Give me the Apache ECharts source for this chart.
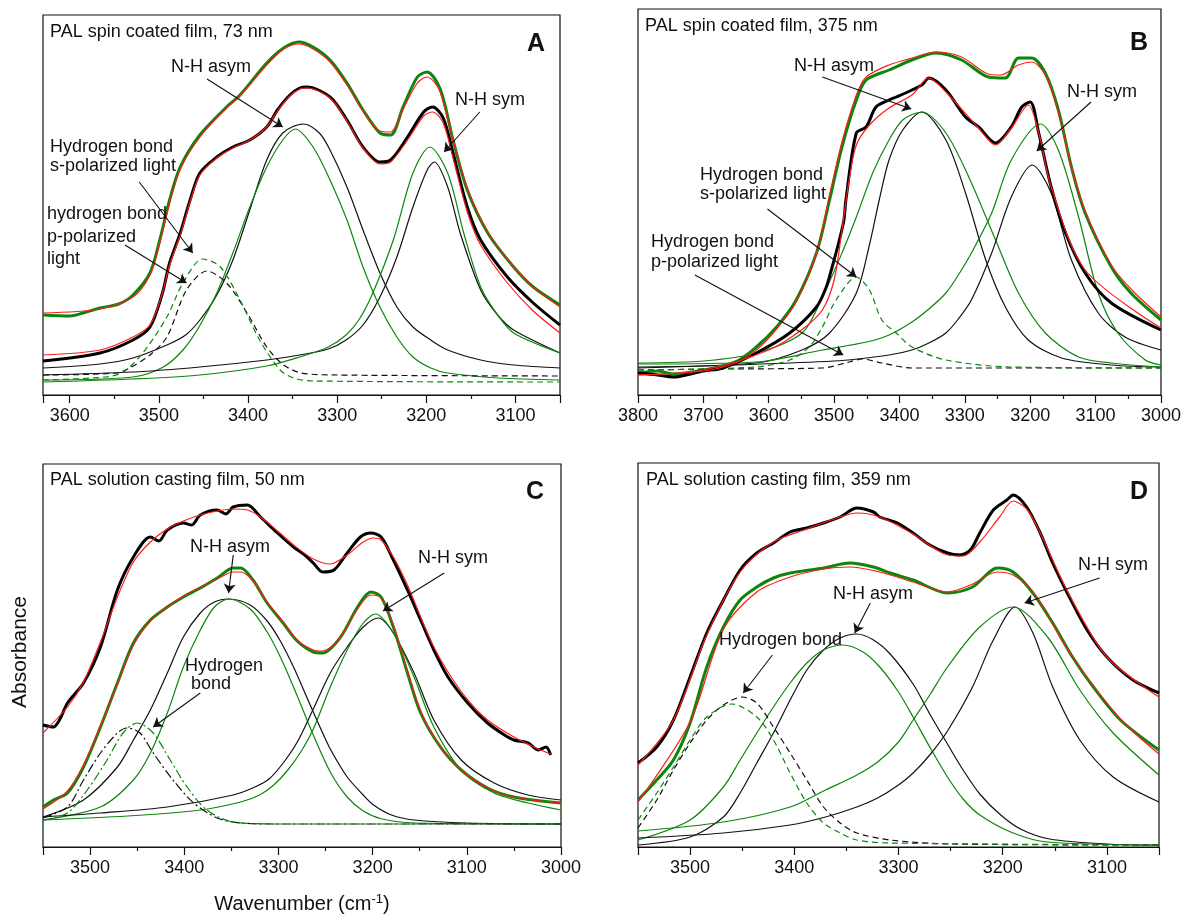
<!DOCTYPE html>
<html lang="en">
<head>
    <meta charset="UTF-8">
    <title>PAL N-H band fits</title>
    <script src="https://cdn.jsdelivr.net/npm/echarts@6/dist/echarts.min.js"></script>
    <style>
        body { margin: 0; background: #fff; }
        #chart { width: 1184px; height: 916px; }
    </style>
</head>
<body>
    <div id="chart"></div>
    <script>
        // ---- panel A: spin coated, 73 nm  [wavenumber, absorbance (a.u.)] ----
        const aMeasGreen = [[3630,80],[3600,79],[3585,82],[3566,87],[3545,91],[3529,100],[3510,122],[3499,155],[3488,195],[3476,228],[3454,260],[3424,288],[3409,300],[3379,332],[3360,347],[3343,353],[3327,348],[3308,335],[3289,312],[3271,285],[3252,262],[3240,260],[3226,288],[3210,318],[3199,323],[3184,305],[3170,255],[3154,205],[3131,162],[3102,128],[3080,108],[3050,90]];
        const aFitGreen = [[3630,82],[3566,86],[3529,98],[3510,120],[3499,152],[3488,192],[3476,226],[3454,258],[3424,287],[3409,299],[3379,330],[3360,346],[3343,351],[3327,346],[3308,333],[3289,310],[3271,284],[3252,264],[3240,263],[3226,286],[3210,312],[3199,318],[3190,312],[3184,302],[3170,255],[3154,207],[3131,163],[3102,128],[3080,108],[3050,88]];
        const aMeasBlack = [[3630,34],[3566,42],[3529,55],[3510,68],[3496,102],[3488,132],[3476,162],[3465,195],[3454,222],[3435,238],[3417,248],[3398,255],[3379,268],[3367,285],[3353,300],[3342,307],[3334,308],[3308,298],[3289,275],[3271,248],[3252,233],[3240,235],[3221,258],[3203,283],[3193,288],[3181,277],[3170,242],[3154,188],[3139,155],[3109,118],[3080,92],[3050,70]];
        const aFitBlack = [[3630,40],[3566,45],[3529,58],[3510,70],[3496,102],[3488,130],[3476,160],[3465,193],[3454,220],[3435,237],[3417,247],[3398,255],[3379,268],[3367,284],[3353,299],[3342,306],[3334,307],[3308,297],[3289,274],[3271,247],[3252,231],[3240,233],[3221,255],[3203,279],[3193,283],[3181,272],[3170,237],[3154,183],[3139,150],[3109,112],[3080,84],[3050,62]];
        const aAsymBlack = [[3630,27],[3566,31],[3529,37],[3491,50],[3470,60],[3454,75],[3435,100],[3417,135],[3398,185],[3379,235],[3361,262],[3338,271],[3320,262],[3308,245],[3289,208],[3271,165],[3252,122],[3233,88],[3215,68],[3195,55],[3176,45],[3139,35],[3102,30],[3050,27]];
        const aAsymGreen = [[3630,15],[3529,18],[3495,28],[3473,45],[3455,68],[3435,102],[3417,142],[3398,188],[3379,228],[3361,255],[3347,266],[3327,248],[3308,215],[3289,175],[3271,128],[3252,88],[3233,58],[3215,38],[3195,27],[3176,22],[3120,17],[3050,15]];
        const aSymBlack = [[3630,20],[3529,23],[3454,28],[3379,35],[3342,40],[3310,46],[3290,55],[3271,70],[3252,98],[3233,138],[3215,188],[3199,225],[3191,233],[3176,208],[3162,162],[3139,105],[3120,80],[3102,65],[3050,42]];
        const aSymGreen = [[3630,13],[3529,16],[3454,20],[3379,29],[3342,38],[3310,48],[3290,60],[3275,76],[3260,102],[3237,155],[3215,222],[3196,248],[3176,222],[3158,162],[3139,108],[3120,80],[3102,62],[3050,42]];
        const aHbondBlack = [[3630,20],[3547,22],[3533,27],[3510,40],[3491,58],[3469,105],[3446,124],[3424,112],[3401,82],[3379,48],[3360,30],[3340,22],[3300,20],[3050,19]];
        const aHbondGreen = [[3630,15],[3560,18],[3540,23],[3518,42],[3491,78],[3473,112],[3451,136],[3431,128],[3409,95],[3387,55],[3364,25],[3349,17],[3327,14],[3050,13]];

        // ---- panel B: spin coated, 375 nm ----
        const bMeasGreen = [[3800,22],[3770,24],[3747,21],[3700,25],[3651,33],[3619,48],[3588,68],[3558,95],[3527,142],[3507,195],[3488,248],[3466,295],[3451,315],[3416,325],[3381,335],[3344,342],[3305,335],[3264,318],[3238,317],[3218,337],[3198,337],[3177,322],[3157,285],[3137,228],[3116,182],[3076,128],[3046,102],[3000,75]];
        const bFitGreen = [[3800,20],[3700,24],[3651,32],[3619,45],[3588,66],[3558,93],[3527,142],[3507,200],[3488,253],[3466,300],[3451,318],[3416,330],[3381,337],[3344,343],[3305,338],[3264,321],[3245,320],[3218,330],[3198,333],[3177,320],[3157,283],[3137,228],[3116,184],[3076,130],[3046,106],[3000,78]];
        const bMeasBlack = [[3800,22],[3770,20],[3747,18],[3700,24],[3670,27],[3619,42],[3568,62],[3527,88],[3512,108],[3503,128],[3492,155],[3485,175],[3482,195],[3466,262],[3451,268],[3436,288],[3416,295],[3405,298],[3381,305],[3366,310],[3355,317],[3329,305],[3299,278],[3279,268],[3253,252],[3229,268],[3213,288],[3200,293],[3187,262],[3168,208],[3146,162],[3116,122],[3076,92],[3000,65]];
        const bFitBlack = [[3800,20],[3700,25],[3600,45],[3550,65],[3518,85],[3500,115],[3488,165],[3477,215],[3466,250],[3446,270],[3416,287],[3381,300],[3355,317],[3329,303],[3279,267],[3253,250],[3229,267],[3203,290],[3187,262],[3168,208],[3116,125],[3000,67]];
        const bAsymGreen = [[3800,32],[3700,34],[3619,42],[3549,62],[3518,98],[3488,142],[3466,178],[3441,222],[3416,255],[3395,275],[3366,283],[3329,262],[3294,218],[3253,155],[3218,102],[3177,62],[3126,38],[3076,32],[3000,28]];
        const bAsymBlack = [[3800,28],[3619,32],[3549,45],[3507,62],[3466,102],[3446,150],[3431,195],[3416,235],[3395,265],[3366,283],[3329,255],[3299,202],[3268,135],[3238,88],[3203,55],[3152,37],[3076,30],[3000,28]];
        const bSymGreen = [[3800,31],[3619,33],[3518,45],[3450,53],[3416,60],[3381,73],[3355,86],[3329,102],[3310,120],[3290,142],[3259,182],[3229,235],[3184,271],[3157,245],[3126,178],[3096,102],[3066,62],[3024,35],[3000,30]];
        const bSymBlack = [[3800,27],[3500,34],[3416,40],[3381,45],[3355,52],[3329,62],[3310,76],[3290,95],[3259,142],[3229,198],[3197,230],[3168,202],[3137,135],[3096,82],[3055,58],[3000,45]];
        const bHbondGreen = [[3800,25],[3619,28],[3568,35],[3538,48],[3518,68],[3497,95],[3466,118],[3446,105],[3427,75],[3405,62],[3381,48],[3329,35],[3229,28],[3000,27]];
        const bHbondBlack = [[3800,25],[3670,26],[3518,27],[3477,33],[3457,36],[3427,32],[3381,27],[3000,27]];

        // ---- panel C: solution casting, 50 nm ----
        const cMeasBlack = [[3550,122],[3539,120],[3532,128],[3524,144],[3507,164],[3489,200],[3471,257],[3454,290],[3436,310],[3427,306],[3418,317],[3401,324],[3392,322],[3383,332],[3365,337],[3356,333],[3348,340],[3333,342],[3319,330],[3301,314],[3284,300],[3272,292],[3263,284],[3253,275],[3241,277],[3227,294],[3213,310],[3202,314],[3191,310],[3178,287],[3163,257],[3149,227],[3135,197],[3120,170],[3099,144],[3078,124],[3060,112],[3050,107],[3035,104],[3024,97],[3016,100],[3011,92]];
        const cFitBlack = [[3550,114],[3524,140],[3507,165],[3489,205],[3471,250],[3454,285],[3436,305],[3418,318],[3401,326],[3383,332],[3365,336],[3348,338],[3333,337],[3319,330],[3301,316],[3284,302],[3263,288],[3245,283],[3227,292],[3210,305],[3199,309],[3191,307],[3178,290],[3163,262],[3149,230],[3135,200],[3120,175],[3099,147],[3078,127],[3050,110],[3024,98],[3011,93]];
        const cMeasGreen = [[3550,40],[3539,47],[3524,54],[3507,80],[3489,120],[3471,164],[3454,204],[3436,227],[3418,240],[3401,250],[3383,259],[3365,269],[3348,279],[3340,279],[3327,267],[3312,244],[3295,224],[3280,206],[3263,195],[3253,194],[3234,210],[3216,240],[3202,255],[3191,250],[3178,220],[3163,174],[3149,134],[3128,100],[3106,77],[3078,59],[3050,50],[3000,44]];
        const cFitGreen = [[3550,38],[3524,56],[3507,82],[3489,121],[3471,163],[3454,202],[3436,226],[3418,240],[3401,251],[3383,260],[3365,268],[3348,275],[3340,275],[3327,266],[3312,245],[3295,225],[3280,207],[3263,197],[3253,196],[3234,210],[3216,238],[3202,252],[3191,249],[3178,222],[3163,176],[3149,136],[3128,100],[3106,77],[3078,59],[3050,50],[3000,44]];
        const cAsymBlack = [[3550,30],[3507,47],[3471,80],[3454,107],[3436,137],[3418,174],[3401,210],[3383,234],[3368,245],[3353,248],[3330,242],[3312,226],[3298,206],[3284,180],[3270,150],[3255,118],[3245,98],[3227,70],[3210,52],[3199,42],[3180,32],[3156,27],[3100,24],[3000,23]];
        const cAsymGreen = [[3550,27],[3489,40],[3454,67],[3436,94],[3418,134],[3401,180],[3383,217],[3368,240],[3353,248],[3330,238],[3312,215],[3298,190],[3284,160],[3263,112],[3245,75],[3227,50],[3210,36],[3190,28],[3156,24],[3000,23]];
        const cSymBlack = [[3550,30],[3489,34],[3418,40],[3348,52],[3325,60],[3310,68],[3295,84],[3280,105],[3263,138],[3245,174],[3227,200],[3210,220],[3194,229],[3178,214],[3156,174],[3135,127],[3106,87],[3071,64],[3035,52],[3000,47]];
        const cSymGreen = [[3550,27],[3460,31],[3383,37],[3340,45],[3320,52],[3305,62],[3290,77],[3275,97],[3263,118],[3245,160],[3227,197],[3210,224],[3197,233],[3178,214],[3156,170],[3135,120],[3106,77],[3071,54],[3035,44],[3000,37]];
        const cHbondBlack = [[3550,29],[3524,40],[3507,67],[3489,94],[3471,114],[3461,119],[3447,114],[3433,94],[3412,67],[3390,44],[3365,29],[3340,24],[3298,23],[3000,23]];
        const cHbondGreen = [[3550,27],[3524,34],[3503,57],[3482,87],[3465,114],[3450,124],[3433,114],[3415,87],[3397,60],[3376,37],[3348,25],[3298,23],[3000,23]];

        // ---- panel D: solution casting, 359 nm ----
        const dMeasBlack = [[3550,84],[3532,100],[3516,127],[3500,170],[3484,214],[3468,247],[3452,277],[3436,294],[3420,304],[3404,315],[3388,319],[3372,324],[3356,330],[3340,339],[3324,335],[3318,330],[3301,324],[3286,314],[3270,302],[3253,294],[3241,292],[3231,297],[3222,314],[3209,337],[3196,347],[3190,352],[3177,340],[3164,314],[3152,284],[3138,254],[3119,217],[3100,190],[3075,167],[3050,154]];
        const dFitBlack = [[3550,82],[3516,127],[3484,212],[3452,275],[3420,305],[3388,318],[3356,330],[3340,334],[3318,330],[3286,313],[3253,292],[3238,291],[3222,305],[3203,330],[3190,346],[3177,338],[3164,314],[3138,256],[3100,190],[3050,150]];
        const dMeasGreen = [[3550,47],[3532,67],[3516,87],[3500,124],[3484,180],[3468,220],[3452,247],[3436,260],[3420,269],[3404,274],[3372,279],[3347,284],[3324,280],[3308,274],[3286,267],[3253,254],[3229,260],[3205,279],[3190,275],[3171,254],[3152,224],[3133,190],[3113,160],[3087,127],[3050,97]];
        const dFitGreen = [[3550,45],[3500,125],[3468,218],[3436,255],[3404,270],[3372,278],[3347,280],[3318,275],[3286,265],[3253,255],[3231,262],[3205,275],[3190,272],[3171,255],[3133,190],[3087,128],[3050,93]];
        const dAsymBlack = [[3550,2],[3500,10],[3468,30],[3452,54],[3436,84],[3420,114],[3404,147],[3388,177],[3372,197],[3356,209],[3340,213],[3324,207],[3308,193],[3286,163],[3270,133],[3253,103],[3238,77],[3222,53],[3203,33],[3183,18],[3155,8],[3100,3],[3050,2]];
        const dAsymGreen = [[3550,7],[3500,27],[3468,60],[3452,87],[3436,114],[3420,140],[3404,164],[3388,184],[3372,197],[3353,202],[3334,195],[3318,180],[3300,155],[3286,130],[3270,100],[3253,70],[3238,48],[3222,32],[3190,14],[3157,5],[3050,2]];
        const dSymBlack = [[3550,9],[3468,14],[3404,22],[3370,30],[3340,40],[3320,49],[3300,62],[3286,74],[3270,92],[3253,116],[3229,160],[3209,207],[3188,240],[3171,214],[3152,160],[3126,107],[3094,70],[3050,45]];
        const dSymGreen = [[3550,16],[3468,25],[3404,40],[3370,57],[3340,72],[3320,85],[3300,105],[3286,127],[3270,152],[3253,180],[3222,220],[3190,240],[3157,210],[3126,157],[3094,114],[3050,72]];
        const dHbondBlack = [[3550,19],[3532,47],[3516,77],[3500,104],[3484,127],[3468,142],[3450,150],[3436,144],[3420,120],[3404,94],[3388,67],[3372,40],[3356,24],[3340,14],[3308,7],[3250,3],[3050,2]];
        const dHbondGreen = [[3550,27],[3532,54],[3516,80],[3500,107],[3484,130],[3460,143],[3436,130],[3420,107],[3404,74],[3388,44],[3372,24],[3356,14],[3340,7],[3308,4],[3050,2]];

        // arrows, [from, to] in data units
        const aArrows = [[[3446,316],[3361,268]],[[3140,283],[3180,243]],[[3522,213],[3462,142]],[[3538,150],[3469,112]]];
        const bArrows = [[[3518,318],[3382,286]],[[3107,293],[3190,244]],[[3602,186],[3466,118]],[[3713,120],[3486,40]]];
        const cArrows = [[[3348,292],[3353,254]],[[3124,274],[3189,236]],[[3383,154],[3433,120]]];
        const dArrows = [[[3327,244],[3342,214]],[[3107,269],[3179,244]],[[3421,192],[3449,154]]];

        const FONT = '"Liberation Sans", Arial, sans-serif';
        const GREEN = '#0b860b';
        const RED = '#ff1a1a';

        const grids = [
            { left: 43, top: 15, width: 517, height: 380 },
            { left: 638, top: 9, width: 525, height: 386 },
            { left: 43, top: 464, width: 518, height: 383 },
            { left: 638, top: 463, width: 521, height: 384 }
        ];
        const xRanges = [[3050, 3630], [3000, 3800], [3000, 3550], [3050, 3550]];

        function xAxisFor(i) {
            const ax = {
                type: 'value', gridIndex: i, inverse: true,
                min: xRanges[i][0], max: xRanges[i][1],
                splitNumber: 6,
                axisLine: { onZero: false, lineStyle: { color: '#111', width: 1.2 } },
                axisTick: { show: true, inside: false, length: 8, lineStyle: { color: '#111', width: 1.2 } },
                minorTick: { show: true, splitNumber: 2, length: 4, lineStyle: { color: '#111', width: 1.2 } },
                splitLine: { show: false },
                axisLabel: { fontFamily: FONT, fontSize: 18, color: '#111', margin: 12,
                    formatter: v => (v % 100 === 0 ? String(v) : '') }
            };
            if (i === 1 || i === 2) ax.interval = 100;
            if (i === 0 || i === 3) { ax.axisLabel.showMinLabel = false; ax.axisLabel.showMaxLabel = false; }
            if (i === 2) {
                ax.axisLabel.showMaxLabel = false;
                ax.name = 'Wavenumber (cm{sup|-1})';
                ax.nameLocation = 'middle';
                ax.nameGap = 46;
                ax.nameTextStyle = { fontFamily: FONT, fontSize: 20, color: '#111',
                    rich: { sup: { fontFamily: FONT, fontSize: 13, color: '#111', padding: [0, 0, 10, 0] } } };
            }
            return ax;
        }

        function yAxisFor(i) {
            return { type: 'value', gridIndex: i, min: 0, max: grids[i].height, show: false };
        }

        function line(i, data, color, width, dash, z) {
            return {
                type: 'line', xAxisIndex: i, yAxisIndex: i, data: data,
                symbol: 'none', smooth: 0.3, silent: true, z: z || 2,
                lineStyle: { color: color, width: width, type: dash || 'solid' }
            };
        }

        function arrows(i, list) {
            return {
                type: 'line', xAxisIndex: i, yAxisIndex: i, data: [], symbol: 'none', silent: true, z: 6,
                markLine: {
                    silent: true, animation: false, symbol: ['none', 'arrow'], symbolSize: 9,
                    label: { show: false },
                    lineStyle: { color: '#111', width: 1.1, type: 'solid' },
                    data: list.map(p => [{ coord: p[0] }, { coord: p[1] }])
                }
            };
        }

        const DASH = [6, 4];
        const DASHDOT = [9, 3, 2, 3];

        const series = [
            // A
            line(0, aAsymBlack, '#111', 1.2), line(0, aAsymGreen, GREEN, 1.2),
            line(0, aSymBlack, '#111', 1.2), line(0, aSymGreen, GREEN, 1.2),
            line(0, aHbondBlack, '#111', 1.2, DASH), line(0, aHbondGreen, GREEN, 1.2, DASH),
            line(0, aMeasGreen, GREEN, 3, null, 3), line(0, aFitGreen, RED, 1.2, null, 4),
            line(0, aMeasBlack, '#000', 3, null, 3), line(0, aFitBlack, RED, 1.2, null, 4),
            arrows(0, aArrows),
            // B
            line(1, bAsymBlack, '#111', 1.2), line(1, bAsymGreen, GREEN, 1.2),
            line(1, bSymBlack, '#111', 1.2), line(1, bSymGreen, GREEN, 1.2),
            line(1, bHbondBlack, '#111', 1.2, DASH), line(1, bHbondGreen, GREEN, 1.2, DASH),
            line(1, bMeasGreen, GREEN, 3, null, 3), line(1, bFitGreen, RED, 1.2, null, 4),
            line(1, bMeasBlack, '#000', 3, null, 3), line(1, bFitBlack, RED, 1.2, null, 4),
            arrows(1, bArrows),
            // C
            line(2, cAsymBlack, '#111', 1.2), line(2, cAsymGreen, GREEN, 1.2),
            line(2, cSymBlack, '#111', 1.2), line(2, cSymGreen, GREEN, 1.2),
            line(2, cHbondBlack, '#111', 1.2, DASHDOT), line(2, cHbondGreen, GREEN, 1.2, DASHDOT),
            line(2, cMeasBlack, '#000', 3, null, 3), line(2, cFitBlack, RED, 1.2, null, 4),
            line(2, cMeasGreen, GREEN, 3, null, 3), line(2, cFitGreen, RED, 1.2, null, 4),
            arrows(2, cArrows),
            // D
            line(3, dAsymBlack, '#111', 1.2), line(3, dAsymGreen, GREEN, 1.2),
            line(3, dSymBlack, '#111', 1.2), line(3, dSymGreen, GREEN, 1.2),
            line(3, dHbondBlack, '#111', 1.2, DASH), line(3, dHbondGreen, GREEN, 1.2, DASH),
            line(3, dMeasBlack, '#000', 3, null, 3), line(3, dFitBlack, RED, 1.2, null, 4),
            line(3, dMeasGreen, GREEN, 3, null, 3), line(3, dFitGreen, RED, 1.2, null, 4),
            arrows(3, dArrows)
        ];

        // text labels
        function txt(x, y, s, size, bold, align) {
            return {
                type: 'text', x: x, y: y, z: 10, silent: true,
                style: { text: s, fill: '#111', font: (bold ? 'bold ' : '') + size + 'px ' + FONT,
                    textAlign: align || 'left', textVerticalAlign: 'middle' }
            };
        }
        const labels = [
            txt(50, 32, 'PAL spin coated film, 73 nm', 18), txt(536, 44, 'A', 25, true, 'center'),
            txt(171, 67, 'N-H asym', 18), txt(455, 100, 'N-H sym', 18),
            txt(50, 147, 'Hydrogen bond', 18), txt(50, 166, 's-polarized light', 18),
            txt(47, 214, 'hydrogen bond', 18), txt(47, 237, 'p-polarized', 18), txt(47, 259, 'light', 18),

            txt(645, 26, 'PAL spin coated film, 375 nm', 18), txt(1139, 43, 'B', 25, true, 'center'),
            txt(794, 66, 'N-H asym', 18), txt(1067, 92, 'N-H sym', 18),
            txt(700, 175, 'Hydrogen bond', 18), txt(700, 194, 's-polarized light', 18),
            txt(651, 242, 'Hydrogen bond', 18), txt(651, 262, 'p-polarized light', 18),

            txt(50, 480, 'PAL solution casting film, 50 nm', 18), txt(535, 492, 'C', 25, true, 'center'),
            txt(190, 547, 'N-H asym', 18), txt(418, 558, 'N-H sym', 18),
            txt(185, 666, 'Hydrogen', 18), txt(191, 684, 'bond', 18),

            txt(646, 480, 'PAL solution casting film, 359 nm', 18), txt(1139, 492, 'D', 25, true, 'center'),
            txt(833, 594, 'N-H asym', 18), txt(1078, 565, 'N-H sym', 18),
            txt(719, 640, 'Hydrogen bond', 18),

            {
                type: 'text', x: 20, y: 652, rotation: Math.PI / 2, z: 10, silent: true,
                style: { text: 'Absorbance', fill: '#111', font: '21px ' + FONT,
                    textAlign: 'center', textVerticalAlign: 'middle' }
            }
        ];

        const chart = echarts.init(document.getElementById('chart'));
        chart.setOption({
            animation: false,
            backgroundColor: '#fff',
            grid: grids.map(g => Object.assign({ show: true, borderColor: '#111', borderWidth: 1.2, backgroundColor: 'transparent' }, g)),
            xAxis: [0, 1, 2, 3].map(xAxisFor),
            yAxis: [0, 1, 2, 3].map(yAxisFor),
            series: series,
            graphic: labels
        });
    </script>
</body>
</html>
